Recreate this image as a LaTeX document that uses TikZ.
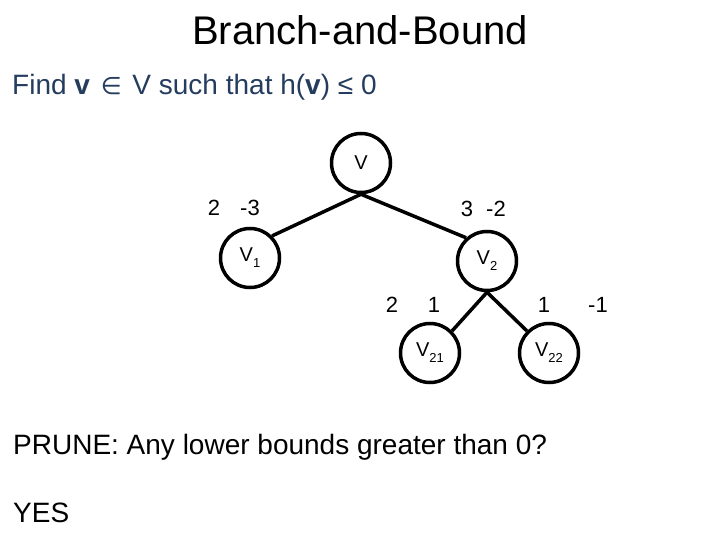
\documentclass[tikz,border=0pt]{standalone}
\usepackage{fontspec}
\setmainfont{Liberation Sans}
\newfontfamily\symfont{DejaVu Sans}
\usepackage{tikz}
\usetikzlibrary{positioning}

\definecolor{findblue}{RGB}{36,60,94}
\newcommand{\fsz}[1]{\fontsize{#1}{#1}\selectfont}
\newcommand{\vsub}[1]{V\raisebox{-0.3em}{\fsz{13}#1}}

\begin{document}
\begin{tikzpicture}[
        x=1pt, y=-1pt,
        sub/.style={circle, draw, line width=3.5pt, minimum size=59pt, inner sep=0pt, font=\fsz{20}},
        bound/.style={inner sep=0pt, font=\fsz{22}},
        txt/.style={inner sep=0pt, anchor=base west, font=\fsz{28}},
        edge/.style={line width=3.5pt}
    ]
    \useasboundingbox (0,0) rectangle (720,540);

    \node[inner sep=0pt, anchor=base, font=\fsz{40}] (title) at (360,45) {Branch-and-Bound};
    \node[txt, text=findblue] (goal) at (12,95) {Find \textbf{v}\hspace{3pt} {\symfont\fsz{24}∈}\hspace{3pt} V such that h(\textbf{v}) ≤ 0};

    % search tree
    \node[sub] (v) at (361,163) {V};
    \node[sub] (v1) at (250,258) {\vsub{1}};
    \node[sub] (v2) at (487,261) {\vsub{2}};
    \node[sub] (v21) at (430,353) {\vsub{21}};
    \node[sub] (v22) at (549,353) {\vsub{22}};

    \draw[edge] (v.south) -- (v1.45);
    \draw[edge] (v.south) -- (v2.132);
    \draw[edge] (v2.south) -- (v21.45);
    \draw[edge] (v2.south) -- (v22.135);

    % lower and upper bounds
    \node[bound] (lb1) at (214,208) {2};
    \node[bound] (ub1) at (250,208) {-3};
    \node[bound] (lb2) at (467,209) {3};
    \node[bound] (ub2) at (496,209) {-2};
    \node[bound] (lb21) at (392,305) {2};
    \node[bound] (ub21) at (434,305) {1};
    \node[bound] (lb22) at (544,305) {1};
    \node[bound] (ub22) at (598,305) {-1};

    \node[txt] (prune) at (13,454) {PRUNE: Any lower bounds greater than 0?};
    \node[txt] (answer) at (13,522) {YES};
\end{tikzpicture}
\end{document}
